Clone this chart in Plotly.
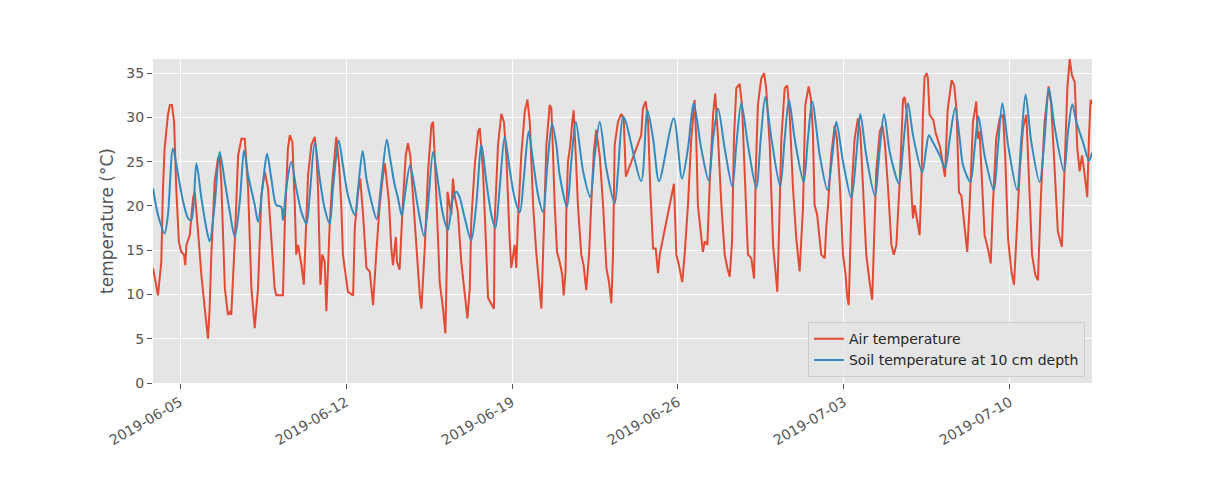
import pandas as pd
import plotly.graph_objects as go

# ---- data (days since 2019-06-05 00:00, temperature in °C) ----
air_days = [
    -1.14, -0.93, -0.79, -0.72, -0.65, -0.51, -0.43, -0.34, -0.25, -0.16, -0.05,
    0.05, 0.17, 0.22, 0.27, 0.41, 0.55, 0.62, 0.76, 0.90,
    1.04, 1.11, 1.18, 1.25, 1.32, 1.46, 1.60, 1.67, 1.74, 1.89,
    2.02, 2.10, 2.16, 2.31, 2.45, 2.59, 2.73, 2.87,
    3.01, 3.15, 3.29, 3.43, 3.57, 3.71, 3.85, 3.99,
    4.06, 4.27, 4.34, 4.42, 4.55, 4.63, 4.74, 4.84, 4.90, 4.98,
    5.12, 5.22, 5.27, 5.40, 5.54, 5.68, 5.75, 5.82, 5.92,
    6.00, 6.10, 6.17, 6.31, 6.42, 6.52, 6.59, 6.71, 6.80, 6.87, 6.95,
    7.08, 7.30, 7.37, 7.51, 7.60, 7.72, 7.86,
    8.00, 8.14, 8.28, 8.42, 8.56, 8.64, 8.81, 8.91, 8.98,
    9.10, 9.15, 9.26, 9.40, 9.52, 9.61, 9.71, 9.83, 9.96,
    10.11, 10.18, 10.32, 10.46, 10.60, 10.67, 10.74, 10.88, 10.95,
    11.09, 11.19, 11.26, 11.28, 11.44, 11.51, 11.58, 11.72, 11.86,
    12.01, 12.12, 12.22, 12.28, 12.43, 12.57, 12.64, 12.78, 12.92, 12.99,
    13.24, 13.27, 13.41, 13.55, 13.66, 13.76, 13.90, 13.97,
    14.11, 14.18, 14.25, 14.39, 14.54, 14.65, 14.75, 14.89,
    15.02, 15.17, 15.24, 15.31, 15.45, 15.59, 15.66, 15.73, 15.80, 15.90,
    16.01, 16.12, 16.18, 16.26, 16.29, 16.36, 16.46, 16.54, 16.60, 16.69, 16.78, 16.92,
    17.02, 17.13, 17.25, 17.34, 17.45, 17.55, 17.70, 17.84, 17.98,
    18.09, 18.19, 18.26, 18.33, 18.47, 18.61, 18.71, 18.80,
    19.45, 19.52, 19.64, 19.74, 19.83, 19.95,
    20.06, 20.16, 20.23, 20.83, 20.93,
    21.04, 21.18, 21.28, 21.42, 21.56, 21.70, 21.77, 21.84, 21.96,
    22.05, 22.13, 22.24, 22.34, 22.48, 22.57, 22.69, 22.83, 22.97,
    23.08, 23.18, 23.28, 23.36, 23.46, 23.60, 23.70, 23.81, 23.95,
    24.09, 24.21, 24.28, 24.37, 24.51, 24.63, 24.72, 24.87,
    25.01, 25.10, 25.19, 25.25, 25.36, 25.50, 25.61, 25.71, 25.85, 25.99,
    26.13, 26.27, 26.37, 26.51, 26.60, 26.69, 26.76, 26.87, 26.98,
    27.04, 27.19, 27.25, 27.33, 27.46, 27.61, 27.70, 27.82, 27.96,
    28.07, 28.13, 28.20, 28.27, 28.35, 28.45, 28.59, 28.69, 28.80, 28.94,
    29.08, 29.19, 29.25, 29.36, 29.51, 29.62, 29.72, 29.86,
    30.00, 30.10, 30.21, 30.35, 30.49, 30.56, 30.66, 30.77, 30.91, 30.98,
    31.08, 31.19, 31.26, 31.33, 31.40, 31.49, 31.54, 31.61, 31.77, 31.87,
    32.05, 32.19, 32.26, 32.37, 32.54, 32.65, 32.75, 32.85, 32.95,
    33.09, 33.20, 33.30, 33.44, 33.58, 33.65, 33.72, 33.82, 33.93,
    34.07, 34.19, 34.28, 34.42, 34.57, 34.71, 34.80, 34.92,
    35.06, 35.17, 35.27, 35.41, 35.55, 35.69, 35.79, 35.93,
    36.07, 36.18, 36.32, 36.46, 36.63, 36.74, 36.89,
    37.02, 37.19, 37.31, 37.42, 37.52, 37.61, 37.73, 37.84, 37.94,
    38.04, 38.15, 38.26, 38.33, 38.40, 38.46,
]
air_temp = [
    13.0, 9.9, 13.7, 22.0, 26.5, 30.3, 31.4, 31.4, 29.5, 22.0, 16.0,
    14.8, 14.5, 13.3, 15.6, 16.7, 20.9, 21.6, 17.1, 12.2,
    8.5, 6.9, 5.0, 8.5, 14.5, 22.7, 25.4, 25.7, 22.7, 10.7,
    7.7, 8.0, 7.7, 16.0, 25.7, 27.6, 27.6, 22.0,
    10.7, 6.2, 10.7, 21.2, 23.9, 22.0, 16.3, 10.7,
    9.9, 9.9, 9.9, 18.2, 26.5, 28.0, 27.2, 20.1, 14.5, 15.6,
    13.3, 11.1, 14.5, 23.5, 26.9, 27.8, 26.1, 22.0, 11.1,
    14.5, 13.7, 8.1, 17.8, 22.7, 25.7, 27.8, 24.6, 20.1, 14.5, 13.0,
    10.3, 9.9, 17.5, 21.6, 23.1, 19.0, 13.0,
    12.6, 8.8, 14.8, 20.1, 23.5, 24.8, 20.5, 15.2, 13.3,
    16.5, 13.7, 12.8, 20.5, 25.7, 27.1, 25.7, 20.9, 15.2,
    9.9, 8.4, 15.2, 23.9, 29.1, 29.5, 25.7, 16.3, 11.4,
    8.4, 5.6, 14.5, 21.6, 19.0, 23.1, 21.2, 19.3, 13.7,
    9.9, 7.3, 10.7, 18.2, 24.6, 28.4, 28.8, 23.9, 14.5, 9.6,
    8.4, 18.2, 26.9, 30.4, 29.5, 25.7, 16.3, 13.0,
    15.6, 13.0, 18.2, 25.7, 30.7, 32.0, 29.5, 20.1,
    14.8, 9.9, 8.4, 14.5, 26.9, 31.4, 31.0, 26.0, 20.1, 14.8,
    13.7, 12.2, 9.9, 12.6, 19.3, 25.0, 26.9, 29.5, 30.8, 25.7, 20.1, 14.5,
    13.3, 10.5, 14.5, 20.1, 26.1, 28.6, 25.7, 20.1, 13.0,
    11.4, 9.0, 14.5, 26.9, 29.5, 30.4, 29.9, 23.3,
    28.0, 31.0, 31.8, 29.5, 22.0, 15.2,
    15.2, 12.4, 14.5, 22.5, 14.5,
    13.3, 11.4, 14.5, 20.1, 27.6, 32.0, 27.6, 20.1, 16.7,
    14.8, 16.0, 15.6, 22.7, 30.3, 32.7, 27.6, 20.1, 14.5,
    13.0, 12.0, 16.0, 27.6, 33.3, 33.8, 31.4, 23.9, 14.5,
    14.1, 11.8, 23.9, 31.4, 34.4, 35.0, 33.3, 26.9,
    15.6, 13.0, 10.3, 16.0, 27.6, 33.3, 33.6, 30.3, 22.0, 16.3,
    12.6, 19.7, 31.4, 33.5, 32.2, 28.4, 20.1, 19.0, 16.0,
    14.5, 14.1, 17.5, 20.1, 25.7, 29.1, 27.6, 22.7, 14.5,
    12.2, 9.9, 8.8, 16.0, 23.1, 27.6, 29.9, 28.4, 22.0, 14.5,
    11.4, 9.4, 14.5, 23.9, 28.4, 29.1, 27.2, 22.0,
    15.6, 14.5, 15.6, 22.7, 32.0, 32.3, 30.3, 24.6, 18.6, 20.1,
    18.6, 16.7, 22.0, 30.3, 34.6, 35.0, 34.4, 30.3, 29.7, 28.2,
    26.7, 24.4, 23.3, 30.8, 34.2, 33.6, 30.8, 21.5, 21.2,
    17.5, 14.8, 20.1, 29.5, 31.8, 27.6, 28.4, 22.0, 16.7,
    15.2, 13.5, 20.1, 27.6, 29.9, 30.3, 25.7, 16.3,
    12.6, 11.1, 16.3, 23.9, 28.8, 30.3, 23.9, 14.5,
    12.2, 11.6, 22.0, 29.5, 33.5, 31.4, 23.9,
    17.1, 15.4, 23.9, 33.3, 36.6, 34.8, 34.0, 26.5, 23.9,
    25.7, 23.5, 21.0, 27.6, 32.0, 31.5,
]

soil_days = [
    -1.14, -0.93, -0.65, -0.51, -0.30, -0.08,
    0.13, 0.34, 0.48, 0.69, 0.90,
    1.11, 1.25, 1.46, 1.67, 1.89,
    2.10, 2.31, 2.52, 2.70, 2.87,
    3.15, 3.29, 3.50, 3.67, 3.85,
    4.06, 4.27, 4.34, 4.48, 4.69, 4.90,
    5.12, 5.33, 5.47, 5.68, 5.89,
    6.10, 6.31, 6.45, 6.69, 6.87,
    7.08, 7.37, 7.51, 7.70, 7.86,
    8.07, 8.29, 8.49, 8.72, 8.84,
    9.05, 9.19, 9.35, 9.48, 9.70, 9.90,
    10.04, 10.29, 10.46, 10.67, 10.88,
    11.09, 11.30, 11.51, 11.65, 11.79,
    12.01, 12.28, 12.49, 12.71, 12.92,
    13.13, 13.30, 13.48, 13.69, 13.90,
    14.11, 14.33, 14.51, 14.70, 14.89,
    15.10, 15.31, 15.49, 15.69, 15.87,
    16.01, 16.32, 16.50, 16.69,
    17.00, 17.30, 17.49, 17.70, 17.98,
    18.33, 18.47, 18.68, 18.80,
    19.45, 19.71, 19.95,
    20.20, 20.82,
    21.17, 21.42, 21.66, 21.98,
    22.29, 22.48, 22.69, 22.97,
    23.29, 23.46, 23.67, 23.95,
    24.30, 24.49, 24.68, 24.94,
    25.31, 25.50, 25.68, 25.92,
    26.30, 26.48, 26.66, 26.98,
    27.30, 27.51, 27.68, 27.96,
    28.31, 28.52, 28.69, 28.94,
    29.30, 29.51, 29.69, 29.93,
    30.32, 30.49, 30.70, 30.91,
    31.30, 31.47, 31.58, 31.75,
    32.04, 32.27, 32.46, 32.69, 32.88,
    33.02, 33.33, 33.51, 33.67, 33.93,
    34.32, 34.49, 34.68, 34.92,
    35.30, 35.48, 35.66, 35.90,
    36.25, 36.46, 36.64, 36.89,
    37.28, 37.45, 37.63, 37.80,
    38.08, 38.33, 38.43, 38.46,
]
soil_temp = [
    22.0, 19.0, 16.9, 19.0, 26.5, 23.5,
    20.5, 18.6, 18.4, 24.8, 20.9,
    17.5, 16.0, 20.1, 26.1, 22.7,
    19.3, 16.5, 20.5, 26.3, 23.5,
    20.1, 18.2, 22.7, 25.9, 23.1,
    20.1, 19.9, 18.4, 22.0, 25.0, 22.0,
    19.3, 18.0, 21.2, 27.2, 23.1,
    19.7, 18.0, 22.0, 27.4, 24.6,
    21.2, 19.0, 22.0, 26.2, 23.1,
    20.5, 18.5, 22.7, 27.5, 25.7,
    22.4, 20.9, 18.9, 21.2, 24.6, 22.0,
    19.7, 16.6, 20.1, 26.1, 22.7,
    19.0, 17.3, 20.9, 21.6, 21.0,
    18.6, 16.1, 20.1, 26.9, 22.7,
    19.0, 17.5, 22.0, 27.8, 24.2,
    20.9, 19.3, 23.5, 28.4, 25.0,
    21.2, 19.3, 24.6, 29.3, 26.9,
    23.5, 19.9, 25.0, 29.5,
    23.9, 21.0, 25.7, 29.5, 24.2,
    20.3, 23.9, 30.1, 29.5,
    22.8, 30.8, 27.6,
    22.8, 29.9,
    23.1, 26.5, 31.6, 26.5,
    22.9, 27.6, 31.0, 26.5,
    22.2, 26.9, 31.6, 26.9,
    22.0, 27.6, 32.3, 27.6,
    22.2, 27.6, 32.0, 27.6,
    22.7, 27.6, 31.8, 25.7,
    21.8, 25.7, 29.5, 25.0,
    20.9, 25.7, 30.4, 25.7,
    21.2, 26.5, 30.4, 26.1,
    22.5, 26.5, 31.6, 28.0,
    23.8, 26.5, 28.0, 27.2,
    25.7, 24.3, 27.6, 31.1, 27.6,
    24.6, 22.7, 26.5, 30.1, 25.7,
    21.8, 26.5, 31.6, 26.9,
    21.8, 27.6, 32.6, 27.2,
    22.7, 27.6, 33.3, 28.8,
    23.9, 28.4, 31.5, 29.5,
    27.2, 25.1, 25.7, 26.0,
]

series_names = ["Air temperature", "Soil temperature at 10 cm depth"]
y_ticks = [0, 5, 10, 15, 20, 25, 30, 35]
x_tick_dates = ["2019-06-05", "2019-06-12", "2019-06-19", "2019-06-26",
                "2019-07-03", "2019-07-10"]
start_date = "2019-06-05"

assert len(air_days) == len(air_temp)
assert len(soil_days) == len(soil_temp)

base = pd.Timestamp(start_date)
air_t = base + pd.to_timedelta(air_days, unit="D")
soil_t = base + pd.to_timedelta(soil_days, unit="D")

fig = go.Figure()
fig.add_trace(go.Scatter(
    x=air_t, y=air_temp, mode="lines", name=series_names[0],
    line=dict(color="#E24A33", width=2),
))
fig.add_trace(go.Scatter(
    x=soil_t, y=soil_temp, mode="lines", name=series_names[1],
    line=dict(color="#348ABD", width=2, shape="spline", smoothing=0.8),
))

font_family = "DejaVu Sans, Arial, sans-serif"
fig.update_layout(
    width=1213, height=480,
    margin=dict(l=153, r=121, t=59, b=97),
    paper_bgcolor="white",
    plot_bgcolor="#E5E5E5",
    font=dict(family=font_family, size=14, color="#555555"),
    showlegend=True,
    legend=dict(
        x=0.9925, y=0.018, xanchor="right", yanchor="bottom",
        bgcolor="rgba(229,229,229,0.85)", bordercolor="#CCCCCC", borderwidth=1,
        font=dict(family=font_family, size=14, color="#262626"),
        itemwidth=30, tracegroupgap=0,
    ),
    xaxis=dict(
        range=[air_t.min(), air_t.max()],
        tickvals=pd.to_datetime(x_tick_dates),
        ticktext=x_tick_dates,
        tickangle=-30,
        ticks="outside", ticklen=5, tickcolor="#555555", tickwidth=1,
        showgrid=True, gridcolor="white", gridwidth=1,
        zeroline=False, showline=False,
        tickfont=dict(size=14, color="#555555"),
    ),
    yaxis=dict(
        range=[0, max(air_temp)],
        tickvals=y_ticks,
        ticks="outside", ticklen=5, tickcolor="#555555", tickwidth=1,
        showgrid=True, gridcolor="white", gridwidth=1,
        zeroline=False, showline=False,
        tickfont=dict(size=14, color="#555555"),
        title=dict(text="temperature (°C)", font=dict(size=17, color="#555555"),
                   standoff=8),
    ),
)

fig.write_html("out.html")
